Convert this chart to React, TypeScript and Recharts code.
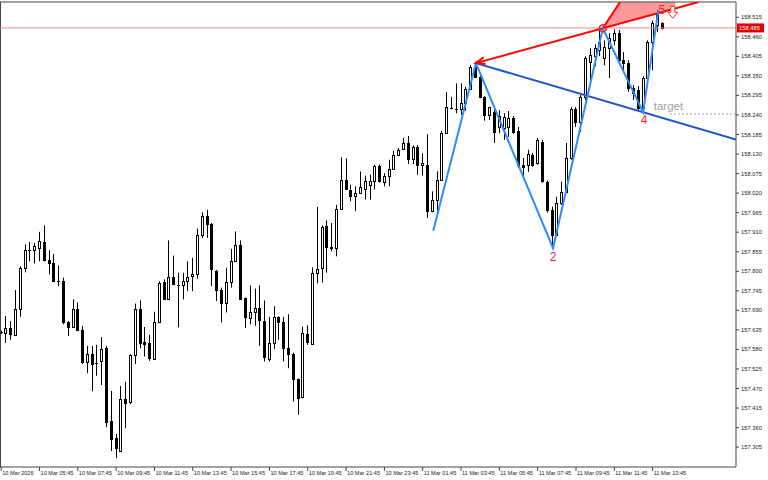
import React from "react";
import {
	Area,
	Bar,
	ComposedChart,
	Line,
	ReferenceLine,
	Scatter,
	XAxis,
	YAxis,
} from "recharts";

// M15 candles, 10 Mar 03:45 .. 11 Mar 14:15
const opens = [
	157.628, 157.626, 157.639, 157.621, 157.695, 157.81, 157.861, 157.861, 157.866, 157.881,
	157.833, 157.822, 157.774, 157.774, 157.658, 157.643, 157.695, 157.635, 157.545, 157.567,
	157.543, 157.548, 157.584, 157.378, 157.33, 157.295, 157.44, 157.431, 157.564, 157.695,
	157.6, 157.598, 157.553, 157.656, 157.769, 157.721, 157.783, 157.761, 157.76, 157.773,
	157.788, 157.791, 157.902, 157.955, 157.933, 157.802, 157.747, 157.712, 157.77, 157.83,
	157.873, 157.724, 157.669, 157.685, 157.696, 157.66, 157.553, 157.598, 157.671, 157.657,
	157.583, 157.568, 157.496, 157.445, 157.623, 157.595, 157.796, 157.808, 157.927, 157.866,
	157.866, 157.976, 158.058, 158.03, 158.011, 158.02, 158.031, 158.044, 158.053, 158.097,
	158.05, 158.069, 158.088, 158.128, 158.144, 158.161, 158.116, 158.151, 158.098, 158.1,
	157.971, 158.002, 158.058, 158.19, 158.26, 158.256, 158.256, 158.273, 158.312, 158.376,
	158.347, 158.291, 158.24, 158.249, 158.206, 158.203, 158.206, 158.231, 158.195, 158.1,
	158.1, 158.126, 158.105, 158.164, 158.052, 157.973, 157.903, 157.993, 158.024, 158.119,
	158.257, 158.22, 158.29, 158.389, 158.406, 158.422, 158.4, 158.428, 158.45, 158.47,
	158.394, 158.386, 158.316, 158.31, 158.26, 158.344, 158.445, 158.492, 158.498,
];
const highs = [
	157.633, 157.674, 157.66, 157.747, 157.814, 157.875, 157.882, 157.88, 157.911, 157.929,
	157.859, 157.849, 157.816, 157.782, 157.66, 157.721, 157.712, 157.646, 157.59, 157.59,
	157.593, 157.615, 157.59, 157.463, 157.342, 157.477, 157.489, 157.567, 157.709, 157.718,
	157.643, 157.621, 157.686, 157.772, 157.777, 157.887, 157.844, 157.796, 157.796, 157.828,
	157.838, 157.92, 157.966, 157.973, 157.936, 157.804, 157.754, 157.81, 157.863, 157.912,
	157.887, 157.726, 157.76, 157.751, 157.76, 157.718, 157.672, 157.702, 157.674, 157.671,
	157.679, 157.571, 157.498, 157.644, 157.648, 157.811, 157.981, 157.929, 157.943, 157.936,
	157.987, 158.121, 158.118, 158.044, 158.039, 158.081, 158.069, 158.072, 158.1, 158.1,
	158.076, 158.114, 158.14, 158.147, 158.175, 158.181, 158.154, 158.156, 158.132, 158.186,
	158.025, 158.081, 158.195, 158.304, 158.291, 158.329, 158.329, 158.319, 158.38, 158.385,
	158.349, 158.293, 158.263, 158.259, 158.254, 158.245, 158.251, 158.237, 158.206, 158.119,
	158.142, 158.133, 158.175, 158.17, 158.055, 157.982, 158.01, 158.052, 158.161, 158.262,
	158.262, 158.296, 158.405, 158.428, 158.439, 158.484, 158.45, 158.47, 158.481, 158.479,
	158.417, 158.394, 158.324, 158.321, 158.349, 158.45, 158.506, 158.535, 158.501,
];
const lows = [
	157.623, 157.598, 157.607, 157.618, 157.672, 157.797, 157.828, 157.822, 157.828, 157.828,
	157.791, 157.772, 157.758, 157.651, 157.618, 157.642, 157.634, 157.539, 157.513, 157.462,
	157.506, 157.48, 157.361, 157.294, 157.274, 157.294, 157.358, 157.426, 157.539, 157.583,
	157.56, 157.548, 157.551, 157.654, 157.719, 157.719, 157.761, 157.642, 157.721, 157.744,
	157.744, 157.779, 157.894, 157.894, 157.758, 157.716, 157.656, 157.684, 157.754, 157.828,
	157.719, 157.64, 157.651, 157.646, 157.59, 157.546, 157.546, 157.581, 157.607, 157.546,
	157.527, 157.433, 157.396, 157.442, 157.593, 157.593, 157.766, 157.768, 157.796, 157.856,
	157.842, 157.973, 158.03, 157.997, 157.969, 158.018, 158.002, 158.002, 158.03, 158.05,
	158.039, 158.039, 158.086, 158.125, 158.142, 158.102, 158.102, 158.072, 158.069, 157.95,
	157.966, 157.969, 158.056, 158.189, 158.256, 158.245, 158.24, 158.252, 158.31, 158.345,
	158.287, 158.224, 158.226, 158.161, 158.189, 158.17, 158.178, 158.187, 158.091, 158.066,
	158.08, 158.094, 158.1, 158.049, 157.965, 157.867, 157.898, 157.987, 158.021, 158.114,
	158.206, 158.192, 158.282, 158.338, 158.377, 158.406, 158.38, 158.344, 158.436, 158.389,
	158.366, 158.305, 158.282, 158.254, 158.248, 158.338, 158.366, 158.473, 158.481,
];
const closes = [
	157.629, 157.639, 157.623, 157.695, 157.81, 157.861, 157.861, 157.872, 157.884, 157.831,
	157.822, 157.774, 157.774, 157.656, 157.642, 157.693, 157.635, 157.545, 157.567, 157.539,
	157.543, 157.581, 157.377, 157.328, 157.302, 157.44, 157.429, 157.564, 157.695, 157.597,
	157.596, 157.556, 157.656, 157.768, 157.721, 157.783, 157.763, 157.761, 157.773, 157.783,
	157.792, 157.902, 157.955, 157.934, 157.805, 157.746, 157.712, 157.77, 157.83, 157.873,
	157.721, 157.671, 157.685, 157.697, 157.662, 157.559, 157.597, 157.671, 157.657, 157.583,
	157.568, 157.498, 157.442, 157.627, 157.6, 157.796, 157.807, 157.925, 157.869, 157.867,
	157.976, 158.058, 158.032, 158.011, 158.02, 158.036, 158.055, 158.053, 158.097, 158.053,
	158.069, 158.088, 158.128, 158.142, 158.161, 158.116, 158.151, 158.098, 158.104, 157.971,
	158.002, 158.058, 158.19, 158.262, 158.261, 158.257, 158.273, 158.312, 158.376, 158.347,
	158.291, 158.24, 158.262, 158.193, 158.237, 158.234, 158.231, 158.192, 158.1, 158.094,
	158.131, 158.1, 158.17, 158.053, 157.973, 157.903, 157.993, 158.024, 158.119, 158.257,
	158.22, 158.29, 158.4, 158.409, 158.428, 158.445, 158.431, 158.456, 158.47, 158.394,
	158.386, 158.316, 158.302, 158.26, 158.344, 158.445, 158.498, 158.526, 158.485,
];

const timeLabels = [
	"10 Mar 2026", "10 Mar 05:45", "10 Mar 07:45", "10 Mar 09:45", "10 Mar 11:45",
	"10 Mar 13:45", "10 Mar 15:45", "10 Mar 17:45", "10 Mar 19:45", "10 Mar 21:45",
	"10 Mar 23:45", "11 Mar 01:45", "11 Mar 03:45", "11 Mar 05:45", "11 Mar 07:45",
	"11 Mar 09:45", "11 Mar 11:45", "11 Mar 13:45",
];
const timeTickIdx = [0, 8, 16, 24, 32, 40, 48, 56, 64, 72, 80, 88, 96, 104, 112, 120, 128, 136];

const priceTicks = [
	157.305, 157.36, 157.415, 157.47, 157.525, 157.58, 157.635, 157.69, 157.745, 157.8,
	157.855, 157.91, 157.965, 158.02, 158.075, 158.13, 158.185, 158.24, 158.295, 158.35,
	158.405, 158.46, 158.515,
];

const currentPrice = 158.485;
const targetPrice = 158.243;

// pattern points (bar index, price)
const zigzag = [
	{ i: 90.2, p: 157.914 },
	{ i: 99.1, p: 158.386 },
	{ i: 115.2, p: 157.865 },
	{ i: 125.6, p: 158.484 },
	{ i: 134, p: 158.248 },
	{ i: 137.2, p: 158.535 },
];
const redLine = [
	{ x: 99.1, y: 158.386 },
	{ x: 145.6, y: 158.558 },
];
const blueLine = [
	{ x: 99.1, y: 158.386 },
	{ x: 153.4, y: 158.171 },
];
const fanEdge = [
	{ x: 125.6, y: 158.484 },
	{ x: 129.2, y: 158.558 },
];
const fanFill = [
	{ i: 125.6, band: [158.484, 158.484] },
	{ i: 129.2, band: [158.497, 158.558] },
	{ i: 140.7, band: [158.54, 158.558] },
];
const targetLine = [
	{ x: 139.6, y: targetPrice },
	{ x: 153.4, y: targetPrice },
];
const marks = [
	{ i: 115.2, p: 157.842, kind: "text", text: "2" },
	{ i: 134.2, p: 158.226, kind: "text", text: "4" },
	{ i: 137.9, p: 158.537, kind: "text", text: "5" },
	{ i: 125.6, p: 158.484, kind: "circle" },
	{ i: 99.1, p: 158.386, kind: "arrow" },
	{ i: 140.2, p: 158.529, kind: "down" },
	{ i: 139.3, p: 158.265, kind: "target", text: "target" },
];

const X_MIN = -0.25;
const X_MAX = 153.4;
const Y_MIN = 157.249;
const Y_MAX = 158.558;

const candles = opens.map((o, i) => ({
	i,
	o,
	h: highs[i],
	l: lows[i],
	c: closes[i],
	range: [lows[i], highs[i]],
}));

const FONT = "'Liberation Sans', Arial, sans-serif";

const CandleShape = (props: any) => {
	const { x, y, width, height, payload } = props;
	if (x == null || y == null || !payload) return null;
	const top = Math.min(y, y + height);
	const bottom = Math.max(y, y + height);
	const span = payload.h - payload.l;
	const toPx = (v: number) =>
		span > 0 ? top + ((payload.h - v) / span) * (bottom - top) : top;
	const cx = Math.floor(x + width / 2) + 0.5;
	const bull = payload.c >= payload.o;
	const bt = Math.round(toPx(Math.max(payload.o, payload.c))) + 0.5;
	const bb = Math.round(toPx(Math.min(payload.o, payload.c))) + 0.5;
	return (
		<g>
			<line x1={cx} x2={cx} y1={top} y2={bottom} stroke="#000" strokeWidth={1} />
			<rect
				x={cx - 1}
				y={bt}
				width={2}
				height={Math.max(0.01, bb - bt)}
				fill={bull ? "#fff" : "#000"}
				stroke="#000"
				strokeWidth={1}
			/>
		</g>
	);
};

const MarkShape = (props: any) => {
	const { cx, cy, payload } = props;
	if (cx == null || cy == null) return null;
	switch (payload.kind) {
		case "text":
			return (
				<text x={cx} y={cy} dy="0.36em" textAnchor="middle" fontSize={12} fontFamily={FONT} fill="#ff2020">
					{payload.text}
				</text>
			);
		case "circle":
			return <circle cx={cx} cy={cy} r={3.5} fill="none" stroke="#ff2020" strokeWidth={1.5} />;
		case "arrow":
			return (
				<polyline
					points={`${cx + 9.6},${cy + 1} ${cx},${cy} ${cx + 7.8},${cy - 5.8}`}
					fill="none"
					stroke="#ff0000"
					strokeWidth={2}
				/>
			);
		case "down":
			return (
				<polygon
					points={`${cx - 2},${cy - 6} ${cx + 2},${cy - 6} ${cx + 2},${cy} ${cx + 5},${cy} ${cx},${cy + 6} ${cx - 5},${cy} ${cx - 2},${cy}`}
					fill="#fff"
					stroke="#ff3030"
					strokeWidth={1}
				/>
			);
		case "target":
			return (
				<text x={cx} y={cy} dy="0.36em" textAnchor="middle" fontSize={11.5} fontFamily={FONT} fill="#a0a0a0">
					{payload.text}
				</text>
			);
		default:
			return null;
	}
};

const TimeTick = (props: any) => {
	const { x, y, index } = props;
	return (
		<text x={x + 1} y={y + 4} fontSize={5.6} fontFamily={FONT} fill="#222" textAnchor="start">
			{timeLabels[index]}
		</text>
	);
};

const PriceTick = (props: any) => {
	const { x, y, payload } = props;
	return (
		<text x={x} y={y} dy="0.35em" fontSize={5.8} fontFamily={FONT} fill="#222" textAnchor="start">
			{Number(payload.value).toFixed(3)}
		</text>
	);
};

const PriceTag = (props: any) => {
	const vb = props.viewBox || {};
	const x = (vb.x || 0) + (vb.width || 0) + 1;
	const y = vb.y || 0;
	return (
		<g>
			<rect x={x} y={y - 4.5} width={27} height={9} fill="#e00000" />
			<text x={x + 2} y={y} dy="0.35em" fontSize={5.8} fontFamily={FONT} fill="#fff">
				{currentPrice.toFixed(3)}
			</text>
		</g>
	);
};

export default function App() {
	return (
		<div style={{ position: "absolute", left: 0, top: 0, width: 768, height: 480, background: "#fff" }}>
			<ComposedChart
				width={768}
				height={480}
				data={candles}
				margin={{ top: 2, right: 0, bottom: 0, left: 0 }}
			>
				<XAxis
					dataKey="i"
					type="number"
					domain={[X_MIN, X_MAX]}
					allowDataOverflow
					ticks={timeTickIdx}
					interval={0}
					height={13}
					tickSize={4}
					tickMargin={0}
					axisLine={{ stroke: "#444" }}
					tickLine={{ stroke: "#444" }}
					tick={<TimeTick />}
				/>
				<YAxis
					orientation="right"
					type="number"
					domain={[Y_MIN, Y_MAX]}
					allowDataOverflow
					ticks={priceTicks}
					interval={0}
					width={32}
					tickSize={3}
					tickMargin={2}
					axisLine={{ stroke: "#444" }}
					tickLine={{ stroke: "#444" }}
					tick={<PriceTick />}
				/>
				<ReferenceLine x={X_MIN} stroke="#444" strokeWidth={2} />
				<ReferenceLine y={Y_MAX} stroke="#444" />
				<ReferenceLine y={currentPrice} stroke="#f08a8a" label={PriceTag} />
				<Bar dataKey="range" barSize={3} shape={<CandleShape />} isAnimationActive={false} />
				<Area
					data={fanFill}
					dataKey="band"
					type="linear"
					stroke="none"
					fill="#ff0000"
					fillOpacity={0.4}
					isAnimationActive={false}
				/>
				<ReferenceLine segment={fanEdge} stroke="#ff0000" strokeWidth={2} ifOverflow="hidden" />
				<ReferenceLine segment={redLine} stroke="#ff0000" strokeWidth={2} ifOverflow="hidden" />
				<ReferenceLine segment={blueLine} stroke="#1f55cc" strokeWidth={2} ifOverflow="hidden" />
				<ReferenceLine segment={targetLine} stroke="#a0a0a0" strokeDasharray="2 2" ifOverflow="hidden" />
				<Line
					data={zigzag}
					dataKey="p"
					type="linear"
					stroke="#2b8cff"
					strokeWidth={2}
					dot={false}
					isAnimationActive={false}
				/>
				<Scatter data={marks} dataKey="p" shape={<MarkShape />} isAnimationActive={false} />
			</ComposedChart>
		</div>
	);
}
